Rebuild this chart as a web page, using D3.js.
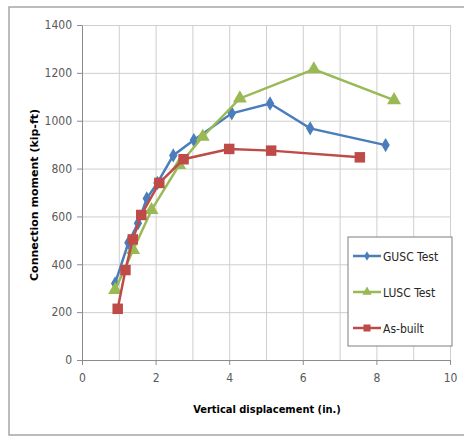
<html>
<head>
<script src="https://d3js.org/d3.v7.min.js"></script>
<style>
  body { margin: 0; background: #fff; }
  .grid line { stroke: #cfcfcf; stroke-width: 1; }
  .grid .domain { stroke: none; }
  .axis text { fill: #595959; font-size: 12px; font-family: "DejaVu Sans Condensed", "Liberation Sans Narrow", sans-serif; }
  .axis line, .axis .domain { stroke: #8c8c8c; }
</style>
</head>
<body>
<svg id="chart" width="464" height="436"></svg>
<script>
// GUSC Test (blue diamonds)
const guscX = [0.9, 1.26, 1.52, 1.76, 2.05, 2.48, 3.04, 4.07, 5.11, 6.2, 8.25];
const guscY = [320, 490, 571, 675, 740, 855, 919, 1031, 1072, 968, 898];
// LUSC Test (green triangles)
const luscX = [0.9, 1.39, 1.89, 2.64, 3.28, 4.29, 6.3, 8.48];
const luscY = [293, 460, 627, 815, 933, 1093, 1215, 1086];
// As-built (red squares)
const asbX = [0.97, 1.18, 1.38, 1.61, 2.1, 2.76, 4.0, 5.14, 7.55];
const asbY = [214, 376, 504, 606, 740, 839, 882, 875, 847];

const seriesNames = ["GUSC Test", "LUSC Test", "As-built"];
const xTicks = [0, 2, 4, 6, 8, 10];
const yTicks = [0, 200, 400, 600, 800, 1000, 1200, 1400];

const svg = d3.select("#chart");
const margins = { top: 25, left: 82, right: 14, bottom: 76 };
const chartWidth = 464 - margins.left - margins.right;   // 368
const chartHeight = 436 - margins.top - margins.bottom;  // 335

// outer frame
svg.append("rect")
    .attr("x", 9).attr("y", 7)
    .attr("width", 470).attr("height", 428)
    .attr("fill", "none")
    .attr("stroke", "#a6a6a6")
    .attr("stroke-width", 1.5);

const xScale = d3.scaleLinear().domain([0, 10]).range([0, chartWidth]);
const yScale = d3.scaleLinear().domain([0, 1400]).range([chartHeight, 0]);

const chartArea = svg.append("g")
    .attr("transform", `translate(${margins.left},${margins.top})`);

// gridlines
chartArea.append("g")
    .attr("class", "grid")
    .attr("transform", `translate(0,${chartHeight})`)
    .call(d3.axisBottom(xScale).tickValues(d3.range(1, 11)).tickFormat("").tickSize(-chartHeight));
chartArea.append("g")
    .attr("class", "grid")
    .call(d3.axisLeft(yScale).tickValues(yTicks.slice(1)).tickFormat("").tickSize(-chartWidth));

// axes
chartArea.append("g")
    .attr("class", "axis")
    .attr("transform", `translate(0,${chartHeight})`)
    .call(d3.axisBottom(xScale).tickValues(xTicks).tickFormat(d3.format("d")).tickSize(5).tickSizeOuter(0).tickPadding(8));
chartArea.append("g")
    .attr("class", "axis")
    .call(d3.axisLeft(yScale).tickValues(yTicks).tickFormat(d3.format("d")).tickSize(5).tickSizeOuter(0).tickPadding(5));

// axis titles
svg.append("text")
    .attr("x", 267)
    .attr("y", 413)
    .attr("text-anchor", "middle")
    .style("font-family", "'DejaVu Sans Condensed', sans-serif")
    .style("font-weight", "bold")
    .style("font-size", "11px")
    .text("Vertical displacement (in.)");

svg.append("text")
    .attr("transform", `translate(38,195) rotate(-90)`)
    .attr("text-anchor", "middle")
    .style("font-family", "'DejaVu Sans', sans-serif")
    .style("font-weight", "bold")
    .style("font-size", "11px")
    .text("Connection moment (kip-ft)");

const colors = ["#4a7ebb", "#98b954", "#be4b48"];
const symbols = [d3.symbolDiamond, d3.symbolTriangle, d3.symbolSquare];
const symSizes = [60, 85, 110];

const series = [
    guscX.map((x, i) => ({ x: x, y: guscY[i] })),
    luscX.map((x, i) => ({ x: x, y: luscY[i] })),
    asbX.map((x, i) => ({ x: x, y: asbY[i] }))
];

const line = d3.line().x(d => xScale(d.x)).y(d => yScale(d.y));

series.forEach((data, i) => {
    chartArea.append("path")
        .datum(data)
        .attr("fill", "none")
        .attr("stroke", colors[i])
        .attr("stroke-width", 2.5)
        .attr("d", line);
    chartArea.selectAll(".pt" + i).data(data)
        .join("path")
        .attr("class", "pt" + i)
        .attr("transform", d => `translate(${xScale(d.x)},${yScale(d.y)})`)
        .attr("fill", colors[i])
        .attr("d", d3.symbol().type(symbols[i]).size(symSizes[i]));
});

// legend
const legend = svg.append("g").attr("transform", "translate(348,237)");
legend.append("rect")
    .attr("width", 104).attr("height", 109)
    .attr("fill", "#fff")
    .attr("stroke", "#7f7f7f")
    .attr("stroke-width", 1);

seriesNames.forEach((name, i) => {
    const y = 19 + i * 36;
    legend.append("line")
        .attr("x1", 5).attr("x2", 33)
        .attr("y1", y).attr("y2", y)
        .attr("stroke", colors[i])
        .attr("stroke-width", 2.5);
    legend.append("path")
        .attr("transform", `translate(19,${y})`)
        .attr("fill", colors[i])
        .attr("d", d3.symbol().type(symbols[i]).size(symSizes[i] * 0.45));
    legend.append("text")
        .attr("x", 35).attr("y", y + 4.5)
        .style("font-family", "'DejaVu Sans Condensed', sans-serif")
        .style("font-size", "12px")
        .style("fill", "#262626")
        .text(name);
});
</script>
</body>
</html>
